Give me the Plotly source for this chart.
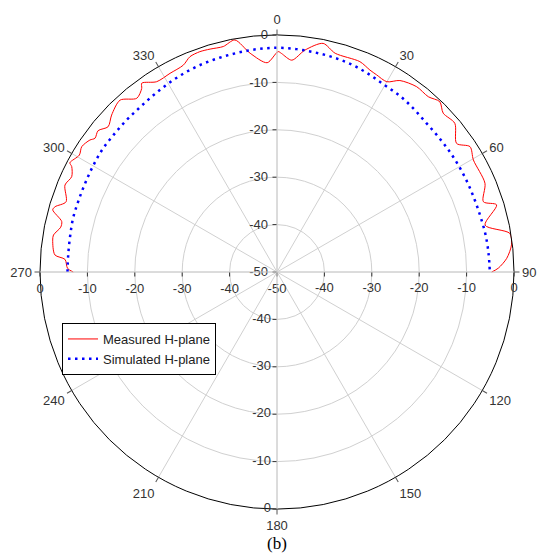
import plotly.graph_objects as go

# Measured H-plane (angle in degrees clockwise from top, gain in dB)
meas_theta = [270, 271, 273.4, 274.4, 278.1, 279.4, 281.7, 283.2, 285.5, 286.4, 288.4, 292.3,
              294.9, 297.2, 297.8, 300.6, 302.7, 305.2, 306.3, 308.3, 310.7, 313.5, 317.6,
              321.1, 323.6, 324.4, 327.7, 331.7, 335.6, 338, 340.7, 343.3, 346.6, 349.7,
              353, 357.3, 360.3, 361.2, 364, 367.2, 371.4, 374.9, 381.5, 384.7, 386.8, 390,
              392.7, 397, 400.8, 403.7, 406.3, 410.1, 414.4, 417, 420.3, 426.9, 431.2, 433,
              437.3, 440.6, 443.4, 446.6, 449, 450]
meas_r = [-7.0, -5.8, -5.2, -3.0, -2.2, -2.2, -3.4, -3.35, -0.9, -1.2, -3.1, -1.65,
          -2.25, -1.3, -0.6, -1.55, -1.05, -1.7, -2.35, -1.9, -3.0, -1.9, -0.9,
          -2.9, -1.9, -1.0, -2.5, -2.4, -2.1, -1.0, -0.75, -0.9, -1.1, -0.25,
          -3.5, -5.8, -3.5, -3.9, -5.2, -2.8, -0.8, -2.25, -2.3, -3.1, -3.4, -3.65,
          -2.0, -1.05, -1.15, -0.3, -1.5, -1.1, -3.4, -1.45, -2.3, -2.3, -4.0, -1.55,
          -5.0, -0.2, -0.2, -1.45, -3.3, -4.7]

# Simulated H-plane
sim_theta = [270, 275, 280, 285, 290, 295, 300, 305, 310, 315, 320, 325, 330, 335, 340,
             345, 350, 355, 360, 365, 370, 375, 380, 385, 390, 395, 400, 405, 410, 415,
             420, 425, 430, 435, 440, 445, 450]
sim_r = [-5.8, -5.8, -5.7, -5.5, -5.5, -5.4, -5.2, -5.0, -5.0, -4.9, -4.8, -4.5, -4.1,
         -3.7, -3.4, -3.2, -3.0, -2.8, -2.7, -2.8, -3.0, -3.2, -3.5, -4.0, -4.5, -4.7,
         -5.1, -5.5, -5.6, -5.6, -5.6, -5.6, -5.6, -5.5, -5.3, -5.2, -5.1]

radial_ticks = [-50, -40, -30, -20, -10, 0]
radial_labels = ["-50", "-40", "-30", "-20", "-10", "0"]
angle_ticks = [0, 30, 60, 90, 120, 150, 180, 210, 240, 270, 300, 330]

W, H = 540, 555
cx, cy, R = 277, 272, 237
dom_x = [(cx - R) / W, (cx + R) / W]
dom_y = [(H - (cy + R)) / H, (H - (cy - R)) / H]

tickfont = dict(family="Liberation Sans, Arial, sans-serif", size=13, color="#333")
grid = "#d0d0d0"

fig = go.Figure()
fig.add_trace(go.Scatterpolar(r=meas_r, theta=meas_theta, mode="lines",
                              line=dict(color="red", width=1, shape="spline", smoothing=0.8),
                              name="Measured H-plane", subplot="polar"))
fig.add_trace(go.Scatterpolar(r=sim_r, theta=sim_theta, mode="lines",
                              line=dict(color="blue", width=2.5, dash="2.5px,4.5px",
                                        shape="spline"),
                              name="Simulated H-plane", subplot="polar"))


def radial(angle, side, grid_on, with_center, tickangle=None, labels=True):
    tv = radial_ticks if with_center else radial_ticks[1:]
    tt = radial_labels if with_center else radial_labels[1:]
    d = dict(range=[-50, 0], tickvals=tv, ticktext=tt, angle=angle, side=side,
             ticks="outside", ticklen=4, tickcolor="#333", tickfont=tickfont,
             showticklabels=labels,
             showline=True, linecolor=grid, linewidth=1,
             showgrid=grid_on, gridcolor=grid, gridwidth=1)
    if tickangle is not None:
        d["tickangle"] = tickangle
    return d


angular_main = dict(direction="clockwise", rotation=90, tickvals=angle_ticks,
                    ticktext=[str(a) for a in angle_ticks], ticks="outside", ticklen=5,
                    tickcolor="#555", tickfont=tickfont, showline=True, linecolor="black",
                    linewidth=1, showgrid=True, gridcolor=grid, gridwidth=1)
angular_hidden = dict(direction="clockwise", rotation=90, visible=False)

# tick labels of the left (270 deg) radial axis, placed through the polar scale
fig.add_trace(go.Scatterpolar(r=radial_ticks, theta=[270] * len(radial_ticks),
                              text=radial_labels, mode="markers+text",
                              textposition="bottom center", textfont=tickfont,
                              marker=dict(size=16, color="rgba(0,0,0,0)"),
                              cliponaxis=False, showlegend=False, hoverinfo="skip",
                              subplot="polar3"))
# tick labels of the downward (180 deg) radial axis
fig.add_trace(go.Scatterpolar(r=radial_ticks[1:], theta=[180] * (len(radial_ticks) - 1),
                              text=radial_labels[1:], mode="markers+text",
                              textposition="middle left", textfont=tickfont,
                              marker=dict(size=8, color="rgba(0,0,0,0)"),
                              cliponaxis=False, showlegend=False, hoverinfo="skip",
                              subplot="polar4"))

fig.update_layout(
    width=W, height=H, margin=dict(l=0, r=0, t=0, b=0),
    paper_bgcolor="white", plot_bgcolor="white",
    polar=dict(domain=dict(x=dom_x, y=dom_y), bgcolor="white",
               radialaxis=radial(0, "clockwise", True, False, 0), angularaxis=angular_main),
    polar2=dict(domain=dict(x=dom_x, y=dom_y), bgcolor="rgba(0,0,0,0)",
                radialaxis=radial(90, "counterclockwise", False, True, 90),
                angularaxis=angular_hidden),
    polar3=dict(domain=dict(x=dom_x, y=dom_y), bgcolor="rgba(0,0,0,0)",
                radialaxis=radial(180, "counterclockwise", False, True, labels=False),
                angularaxis=angular_hidden),
    polar4=dict(domain=dict(x=dom_x, y=dom_y), bgcolor="rgba(0,0,0,0)",
                radialaxis=radial(270, "clockwise", False, False, labels=False),
                angularaxis=angular_hidden),
    showlegend=True,
    legend=dict(x=62 / W, y=(H - 323) / H, xanchor="left", yanchor="top",
                bgcolor="white", bordercolor="black", borderwidth=1,
                font=dict(family="Liberation Sans, Arial, sans-serif", size=13, color="#222"),
                tracegroupgap=0, itemwidth=30),
    annotations=[dict(text="(b)", x=0.513, y=(H - 543) / H, xref="paper", yref="paper",
                      showarrow=False, xanchor="center", yanchor="middle",
                      font=dict(family="Liberation Serif, Times New Roman, serif", size=17,
                                color="black"))],
)

# empty trace so the upward overlay subplot is rendered
fig.add_trace(go.Scatterpolar(r=[], theta=[], subplot="polar2", showlegend=False,
                              hoverinfo="skip"))

fig.write_html("out.html")
